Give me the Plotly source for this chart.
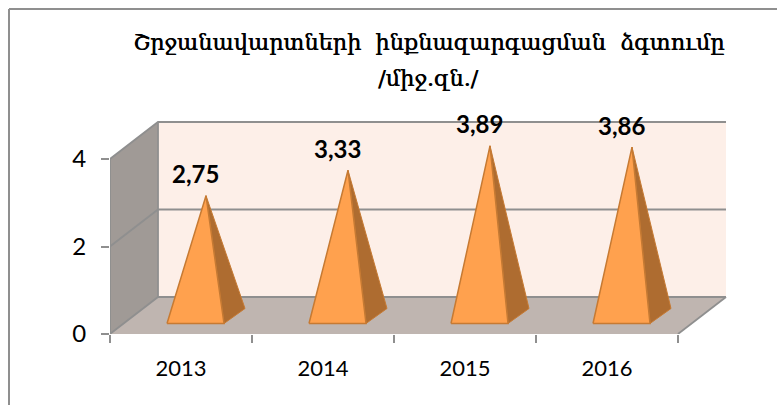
import plotly.graph_objects as go

years = ["2013", "2014", "2015", "2016"]
values = [2.75, 3.33, 3.89, 3.86]
value_labels = ["2,75", "3,33", "3,89", "3,86"]
y_ticks = [0, 2, 4]
title_lines = ["Շրջանավարտների  ինքնազարգացման  ձգտումը", "/միջ.զն./"]

W, H = 777, 405
L, R, T, B = 110, 48, 120, 71
PX_X = 142.0   # pixels per category
PX_Y = 43.75   # pixels per value unit
DX = 48 / PX_X  # depth offset in data units
DY = 37 / PX_Y
x_max = (W - L - R) / PX_X
y_max = (H - T - B) / PX_Y
n = len(years)
y_top = y_ticks[-1]

WALL = "#A09A96"
BACK = "#FDEFE8"
FLOOR = "#BFB5B0"
EDGE = "#8F8F8F"
FRONT = "#FFA14E"
SIDE = "#AE6C30"
OUT = "#C67A33"

fig = go.Figure()


def poly(xs, ys, fill, line=None, width=0):
    fig.add_trace(go.Scatter(
        x=xs, y=ys, mode="lines", fill="toself", fillcolor=fill,
        line=dict(color=line or fill, width=width), hoverinfo="skip",
        showlegend=False, cliponaxis=False))


def seg(xs, ys, width=1.8):
    fig.add_trace(go.Scatter(
        x=xs, y=ys, mode="lines", line=dict(color=EDGE, width=width),
        hoverinfo="skip", showlegend=False, cliponaxis=False))


# walls and floor
poly([DX, n + DX, n + DX, DX], [DY, DY, y_top + DY, y_top + DY], BACK)
poly([0, DX, DX, 0], [0, DY, y_top + DY, y_top], WALL)
poly([0, n, n + DX, DX], [0, 0, DY, DY], FLOOR)

# grid and edges
for t in y_ticks[1:-1]:
    seg([0, DX, n + DX], [t, t + DY, t + DY])
seg([0, DX, n + DX], [y_top, y_top + DY, y_top + DY])
seg([0, DX, n + DX], [0, DY, DY])
seg([n, n + DX], [0, DY])
seg([DX, DX], [DY, y_top + DY])
seg([0, 0], [0, y_top])

# pyramids
BW = 57 / PX_X
BX = 57 / PX_X
BY = 10.5 / PX_Y
SX = 21 / PX_X
SY = 15 / PX_Y
for i, v in enumerate(values):
    x0 = i + BX
    x1 = x0 + BW
    ax = (x0 + x1 + SX) / 2
    ay = v + BY + SY / 2
    poly([x1, x1 + SX, ax, x1], [BY, BY + SY, ay, BY], SIDE, OUT, 1)
    poly([x0, x1, ax, x0], [BY, BY, ay, BY], FRONT, OUT, 1.5)
    fig.add_annotation(
        x=ax, y=ay, text=f"<b>{value_labels[i]}</b>", showarrow=False,
        xshift=-11, yshift=22, font=dict(family="Lato", size=24, color="#000"))

fig.update_layout(
    width=W, height=H, autosize=False,
    margin=dict(l=L, r=R, t=T, b=B, pad=0),
    paper_bgcolor="white", plot_bgcolor="white",
    showlegend=False,
    xaxis=dict(
        range=[0, x_max], showgrid=False, zeroline=False, showline=False,
        tickmode="array", tickvals=[i + 0.5 for i in range(n)], ticktext=years,
        ticks="", ticklabelstandoff=19,
        tickfont=dict(family="Lato", size=22, color="#000"),
        minor=dict(tickmode="array", tickvals=list(range(n + 1)), ticks="outside",
                   ticklen=8, tickwidth=1.8, tickcolor=EDGE, showgrid=False),
    ),
    yaxis=dict(
        range=[0, y_max], showgrid=False, zeroline=False, showline=False,
        tickmode="array", tickvals=y_ticks, ticks="outside", ticklen=8,
        tickwidth=1.8, tickcolor=EDGE, ticklabelstandoff=10,
        tickfont=dict(family="Lato", size=24, color="#000"),
    ),
    shapes=[
        dict(type="line", xref="paper", yref="paper",
             x0=(9 - L) / (W - L - R), x1=(W - L) / (W - L - R),
             y0=(H - B - 9) / (H - T - B), y1=(H - B - 9) / (H - T - B),
             line=dict(color=EDGE, width=2)),
        dict(type="line", xref="paper", yref="paper",
             x0=(9 - L) / (W - L - R), x1=(9 - L) / (W - L - R),
             y0=(H - B - 9) / (H - T - B), y1=(H - B - H) / (H - T - B),
             line=dict(color=EDGE, width=2)),
    ],
)
for text, py in zip(title_lines, [42, 78]):
    fig.add_annotation(
        xref="paper", yref="paper",
        x=(428 - L) / (W - L - R), y=(H - B - py) / (H - T - B),
        text=text, showarrow=False, xanchor="center", yanchor="middle",
        font=dict(family="DejaVu Serif", size=22.4, color="#000",
                  shadow="0.5px 0 0 #000"))

fig.write_html("out.html", config=dict(displayModeBar=False),
               post_script="document.body.style.margin='0';document.body.style.overflow='hidden';")
